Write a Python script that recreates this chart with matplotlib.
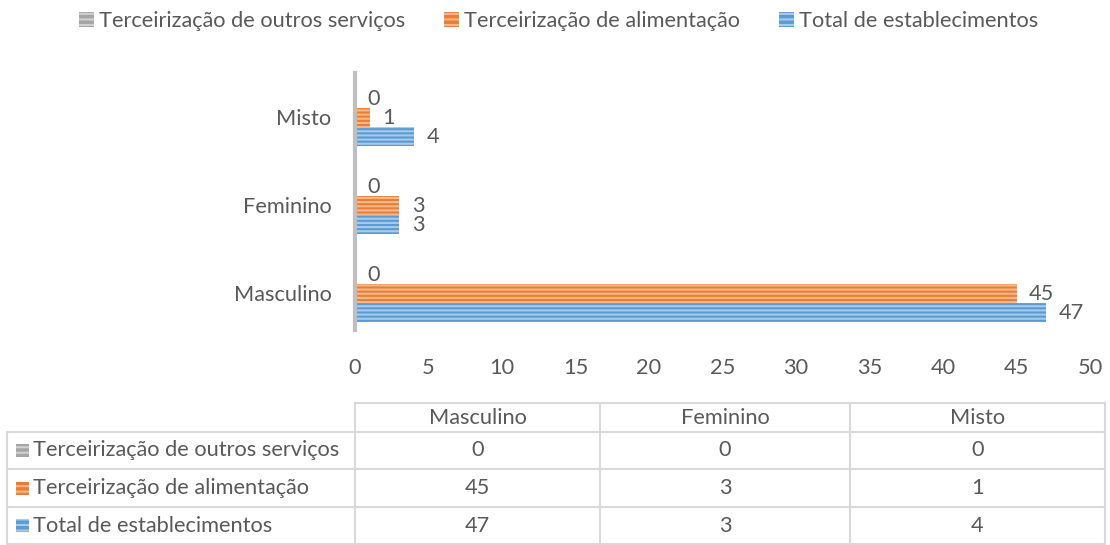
import matplotlib.pyplot as plt
from matplotlib.patches import Patch, Rectangle
from matplotlib.lines import Line2D

categories = ['Masculino', 'Feminino', 'Misto']
series_names = ['Terceirização de outros serviços',
                'Terceirização de alimentação',
                'Total de establecimentos']
outros = [0, 0, 0]
alimentacao = [45, 3, 1]
total = [47, 3, 4]
xticks = [0, 5, 10, 15, 20, 25, 30, 35, 40, 45, 50]

colors = ['#A5A5A5', '#ED7D31', '#5B9BD5']
stripes = ['#D0D0D0', '#F6B98E', '#A9CBEA']
txt = '#595959'
fs = 15.7

plt.rcParams['font.family'] = ['Lato', 'DejaVu Sans']
plt.rcParams['hatch.linewidth'] = 1.5

fig = plt.figure(figsize=(11.1, 5.45), dpi=100)
ax = fig.add_axes([355 / 1110, 1 - 330 / 545, 735 / 1110, 257 / 545])

h = 0.216
values = [outros, alimentacao, total]
offsets = [h, 0, -h]
for vals, off, c, s in zip(values, offsets, colors, stripes):
    ys = [i + off for i in range(len(categories))]
    ax.barh(ys, vals, height=h, color=c, edgecolor=s, hatch='----', linewidth=0)
    for y, v in zip(ys, vals):
        ax.text(v + 0.85, y - 0.01, str(v), va='center', ha='left', fontsize=fs, color=txt)

ax.set_xlim(0, 50)
ax.set_ylim(-0.42, 2.5)
ax.set_yticks(range(len(categories)))
ax.set_yticklabels(categories, fontsize=fs, color=txt)
ax.set_xticks(xticks)
ax.set_xticklabels([str(t) for t in xticks], fontsize=fs, color=txt)
ax.tick_params(axis='both', length=0)
ax.tick_params(axis='y', pad=17)
ax.tick_params(axis='x', pad=20)
for sp in ['top', 'right', 'bottom']:
    ax.spines[sp].set_visible(False)
ax.spines['left'].set_color('#BFBFBF')
ax.spines['left'].set_linewidth(3)

# legend
handles = [Patch(facecolor=c, edgecolor=s, hatch='---', linewidth=0)
           for c, s in zip(colors, stripes)]
fig.legend(handles, series_names, loc='upper center', bbox_to_anchor=(0.503, 1.015),
           ncol=3, frameon=False, fontsize=fs, labelcolor=txt,
           handlelength=0.7, handleheight=0.7, handletextpad=0.2, columnspacing=1.8)

# data table
tab = fig.add_axes([0, 0, 1, 1])
tab.set_xlim(0, 1110)
tab.set_ylim(545, 0)
tab.axis('off')
lc = '#D9D9D9'
col_x = [355, 600, 850, 1105]
row_y = [403, 432, 469, 507, 544]
tab.add_line(Line2D([355, 1105], [row_y[0], row_y[0]], color=lc, lw=1.5))
for y in row_y[1:]:
    tab.add_line(Line2D([7, 1105], [y, y], color=lc, lw=1.5))
tab.add_line(Line2D([7, 7], [row_y[1], row_y[-1]], color=lc, lw=1.5))
for x in col_x:
    tab.add_line(Line2D([x, x], [row_y[0], row_y[-1]], color=lc, lw=1.5))

for j, cat in enumerate(categories):
    cx = (col_x[j] + col_x[j + 1]) / 2
    tab.text(cx, (row_y[0] + row_y[1]) / 2, cat, ha='center', va='center', fontsize=fs, color=txt)
for i, (name, vals) in enumerate(zip(series_names, values)):
    cy = (row_y[i + 1] + row_y[i + 2]) / 2
    tab.add_patch(Rectangle((16, cy - 6.5), 13, 13, facecolor=colors[i], edgecolor=stripes[i],
                            hatch='---', linewidth=0))
    tab.text(33, cy, name, ha='left', va='center', fontsize=fs, color=txt)
    for j, v in enumerate(vals):
        cx = (col_x[j] + col_x[j + 1]) / 2
        tab.text(cx, cy, str(v), ha='center', va='center', fontsize=fs, color=txt)

fig.savefig('out.png', dpi=100)
